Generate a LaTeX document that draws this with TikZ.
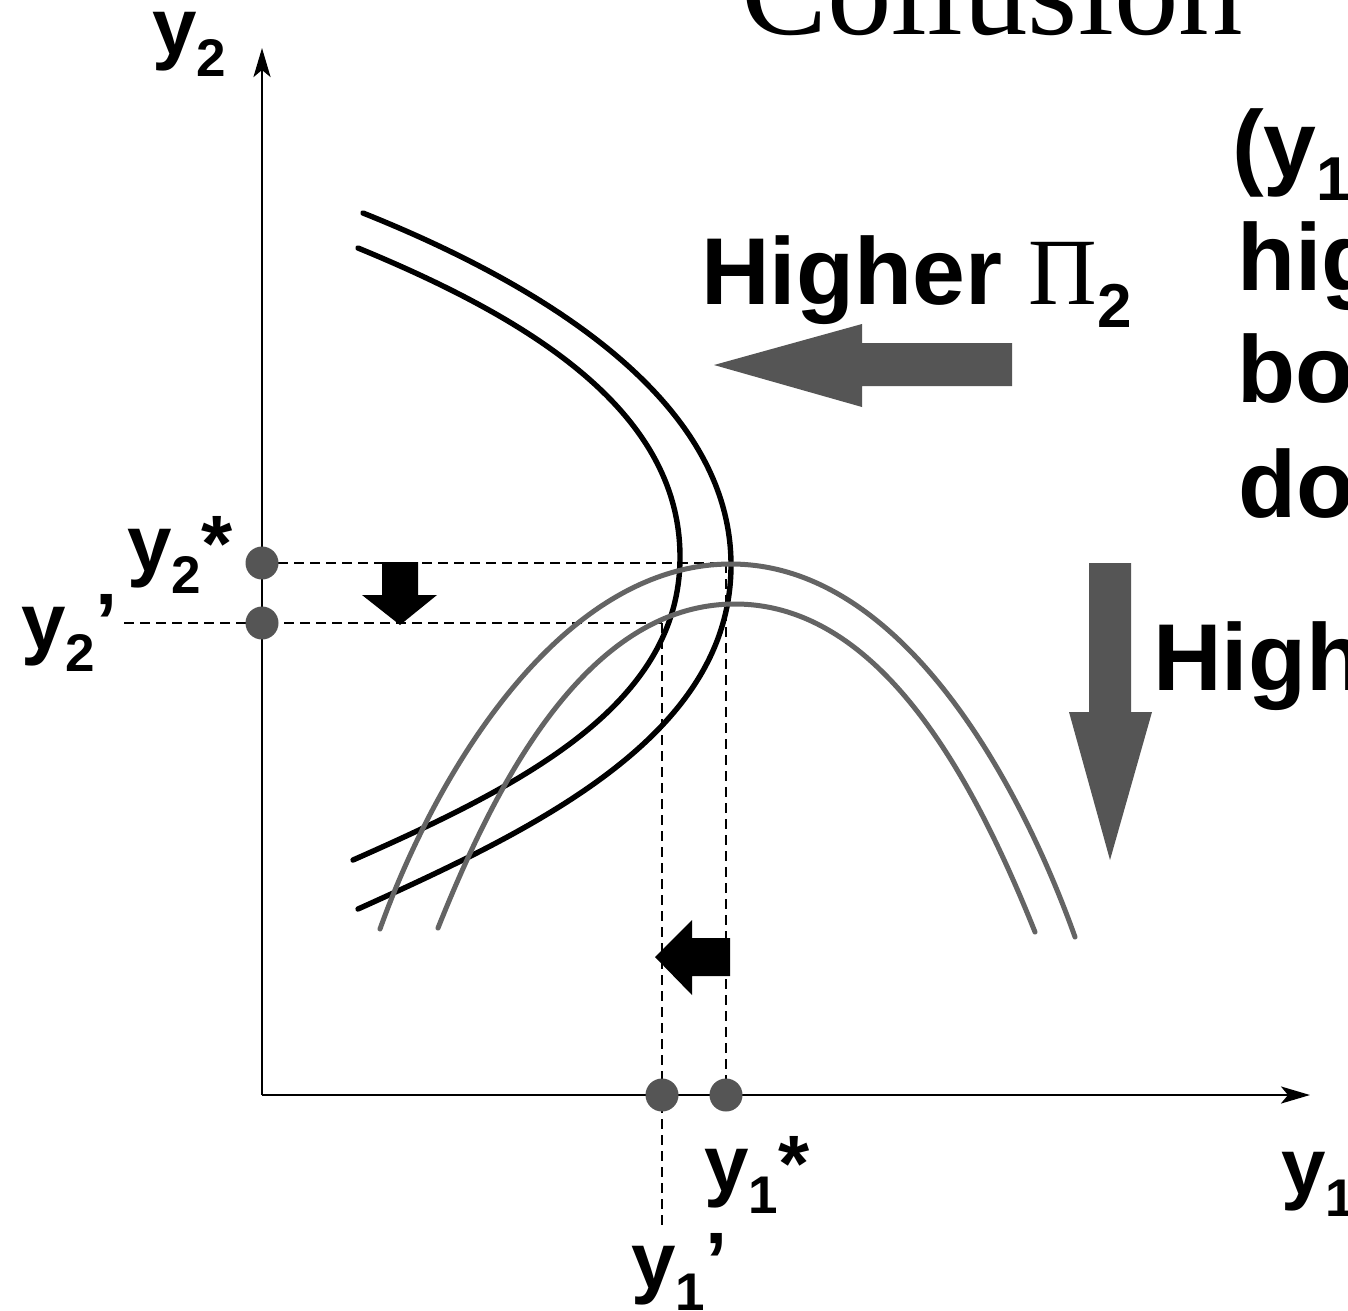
\documentclass[tikz,border=0pt]{standalone}
\usepackage{fontspec}
\setmainfont{Liberation Sans}
\newfontfamily\serif{Liberation Serif}
\usetikzlibrary{arrows.meta}
\definecolor{cgray}{RGB}{100,100,100}
\definecolor{agray}{RGB}{85,85,85}
\newcommand{\fsz}[1]{\fontsize{#1pt}{#1pt}\selectfont}
\newcommand{\ysub}[2]{{\fsz{80}y}\raisebox{-22pt}{\fsz{53}#1}{\fsz{80}#2}}
\tikzset{
  lab/.style={anchor=base west, inner sep=0pt, font=\bfseries},
  axis/.style={line width=2.8pt, -{Stealth[length=29pt,width=17pt,inset=7pt]}},
  dashln/.style={line width=2.2pt, dash pattern=on 10pt off 6pt},
  bcurve/.style={line width=5.4pt, line cap=round, black},
  gcurve/.style={line width=5pt, line cap=round, cgray},
  pt/.style={circle, fill=agray, minimum size=33pt, inner sep=0pt},
  garrow/.style={fill=agray},
  barrow/.style={fill=black}
}
\begin{document}
\begin{tikzpicture}[x=1pt,y=-1pt]
\useasboundingbox (0,0) rectangle (1348,1310);
\fill[white] (0,0) rectangle (1348,1310);
\clip (0,0) rectangle (1348,1310);

% title (cropped)
\node[lab, font=\mdseries] (title) at (741,34) {\serif\fsz{129}Collusion};

% axes
\coordinate (O) at (262,1095);
\coordinate (ytop) at (262,48);
\coordinate (xend) at (1310,1095);
\draw[axis] (O) -- (ytop);
\draw[axis] (O) -- (xend);

% dashed guide lines
\coordinate (ys) at (262,563);
\coordinate (yp) at (262,623);
\coordinate (xs) at (726,1095);
\coordinate (xp) at (662,1095);
\coordinate (Es) at (731,563);
\coordinate (Ep) at (662,623);
\coordinate (ypl) at (124,623);
\coordinate (xpl) at (662,1225);
\draw[dashln] (ys) -- (Es);
\draw[dashln] (ypl) -- (Ep);
\draw[dashln] (726,563) -- (xs);
\draw[dashln] (Ep) -- (xpl);

% black curves (firm 1)
\draw[bcurve] (363,213) .. controls (543,285) and (731,400) .. (731,565)
              .. controls (731,735) and (538,828) .. (358,909);
\draw[bcurve] (358,248) .. controls (528,318) and (680,410) .. (680,557)
              .. controls (680,705) and (523,785) .. (353,860);

% gray curves (firm 2)
\draw[gcurve] (380,929) .. controls (435,775) and (560,564) .. (731,564)
              .. controls (902,564) and (1020,783) .. (1075,937);
\draw[gcurve] (438,928) .. controls (494,788) and (585,604) .. (735,604)
              .. controls (885,604) and (978,790) .. (1035,932);

% points
\node[pt] (d2s) at (ys) {};
\node[pt] (d2p) at (yp) {};
\node[pt] (d1s) at (xs) {};
\node[pt] (d1p) at (xp) {};

% block arrows
\fill[garrow] (1012,343) -- (862,343) -- (862,324) -- (714,365) -- (862,407) -- (862,386) -- (1012,386) -- cycle;
\fill[garrow] (1089,563) -- (1131,563) -- (1131,712) -- (1152,712) -- (1110,860) -- (1069,712) -- (1089,712) -- cycle;
\fill[barrow] (382,562) -- (418,562) -- (418,595) -- (437,595) -- (400,625) -- (362,595) -- (382,595) -- cycle;
\fill[barrow] (730,938) -- (692,938) -- (692,920) -- (655,957) -- (692,995) -- (692,976) -- (730,976) -- cycle;

% labels
\node[lab] (ly2)  at (152,54)    {\ysub{2}{}};
\node[lab] (ly2s) at (127,571)   {\ysub{2}{*}};
\node[lab] (ly2p) at (21,649.5)  {\ysub{2}{’}};
\node[lab] (ly1s) at (704,1191.5){\ysub{1}{*}};
\node[lab] (ly1p) at (631,1288.5){\ysub{1}{’}};
\node[lab] (ly1)  at (1281,1194) {\ysub{1}{}};

\node[lab] (hp) at (701,304) {\fsz{95}Higher {\serif\mdseries Π}\raisebox{-23pt}{\fsz{62}2}};
\node[lab] (r1) at (1232,177) {\fsz{95}(y\raisebox{-23pt}{\fsz{62}1}};
\node[lab] (r2) at (1237,290) {\fsz{95}hig};
\node[lab] (r3) at (1237,402) {\fsz{95}bo};
\node[lab] (r4) at (1238,517) {\fsz{95}do};
\node[lab] (r5) at (1153,690) {\fsz{95}High};
\end{tikzpicture}
\end{document}
